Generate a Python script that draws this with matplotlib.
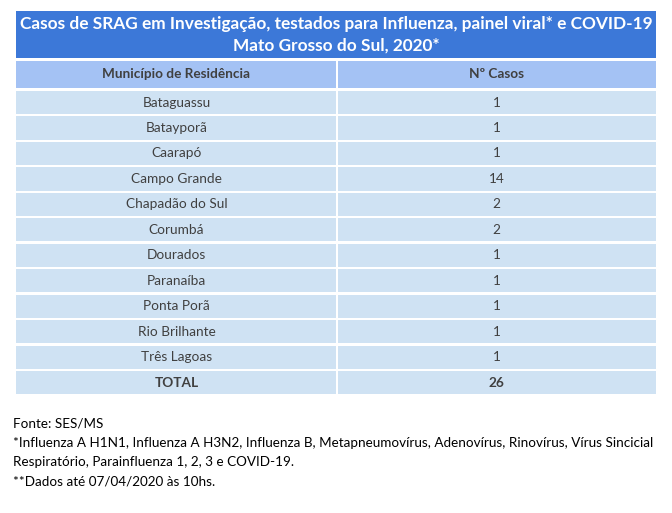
import matplotlib.pyplot as plt
from matplotlib.patches import Rectangle

plt.rcParams['font.family'] = ['Lato', 'DejaVu Sans']

title = ["Casos de SRAG em Investigação, testados para Influenza, painel viral* e COVID-19",
         "Mato Grosso do Sul, 2020*"]
col_headers = ["Município de Residência", "Nº Casos"]
municipios = ["Bataguassu", "Batayporã", "Caarapó", "Campo Grande", "Chapadão do Sul",
              "Corumbá", "Dourados", "Paranaíba", "Ponta Porã", "Rio Brilhante", "Três Lagoas"]
casos = [1, 1, 1, 14, 2, 2, 1, 1, 1, 1, 1]
notes = ["Fonte: SES/MS",
         "*Influenza A H1N1, Influenza A H3N2, Influenza B, Metapneumovírus, Adenovírus, Rinovírus, Vírus Sincicial",
         "Respiratório, Parainfluenza 1, 2, 3 e COVID-19.",
         "**Dados até 07/04/2020 às 10hs."]

W, H = 672, 513
fig = plt.figure(figsize=(W / 100, H / 100), dpi=100)
ax = fig.add_axes([0, 0, 1, 1])
ax.set_xlim(0, W)
ax.set_ylim(H, 0)
ax.axis('off')

x0, xm, x1 = 16, 337, 656
gap = 1
dark = '#3c78d8'
head = '#a4c2f4'
light = '#cfe2f3'
txt = '#404040'

# title bar
ax.add_patch(Rectangle((x0, 11), x1 - x0, 47, color=dark, lw=0))
ax.text((x0 + x1) / 2, 24, title[0], ha='center', va='center', color='white',
        fontsize=12.4, fontweight='bold')
ax.text((x0 + x1) / 2, 46, title[1], ha='center', va='center', color='white',
        fontsize=12.4, fontweight='bold')


def row(y, h, color, left, right, bold=False):
    ax.add_patch(Rectangle((x0, y), xm - gap - x0, h, color=color, lw=0))
    ax.add_patch(Rectangle((xm + gap, y), x1 - xm - gap, h, color=color, lw=0))
    kw = dict(ha='center', va='center', color=txt, fontsize=9.8,
              fontweight='bold' if bold else 'normal')
    ax.text((x0 + xm) / 2, y + h / 2, left, **kw)
    ax.text((xm + x1) / 2, y + h / 2, right, **kw)


row(61, 27, head, col_headers[0], col_headers[1], bold=True)

pitch = 25.45
top = 91
for i, (m, c) in enumerate(zip(municipios, casos)):
    row(top + i * pitch, pitch - 2.3, light, m, str(c))
row(top + len(municipios) * pitch, pitch - 2.3, light, "TOTAL", str(sum(casos)), bold=True)

for i, n in enumerate(notes):
    y = 424 + i * 19.2
    ax.text(13, y, n, ha='left', va='center', color='black', fontsize=9.7)

fig.savefig('out.png', dpi=100)
